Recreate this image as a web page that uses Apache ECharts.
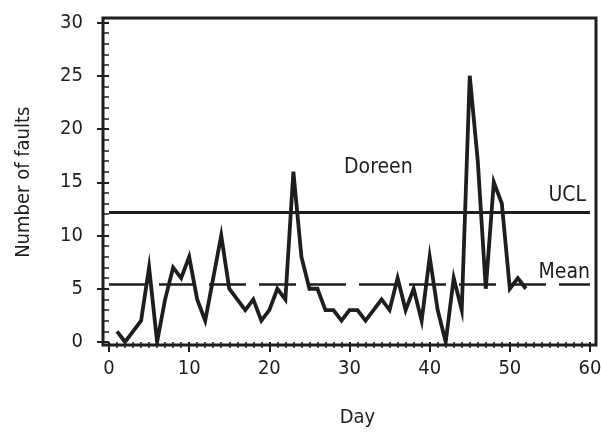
<!DOCTYPE html>
<html lang="en">
<head>
    <meta charset="UTF-8">
    <title>Faults per day</title>
    <script src="https://cdn.jsdelivr.net/npm/echarts@6/dist/echarts.min.js"></script>
    <style>
        html, body { margin: 0; padding: 0; background: #fff; }
        #container { width: 601px; height: 432px; }
    </style>
</head>
<body>
<div id="container"></div>
<script type="text/javascript">
    // faults counted each day
    var days = [];
    for (var d = 1; d <= 52; d++) days.push(d);
    var faults = [1, 0, 1, 2, 7, 0, 4, 7, 6, 8,
                  4, 2, 6, 10, 5, 4, 3, 4, 2, 3,
                  5, 4, 16, 8, 5, 5, 3, 3, 2, 3,
                  3, 2, 3, 4, 3, 6, 3, 5, 2, 8,
                  3, 0, 6, 3, 25, 17, 5, 15, 13, 5,
                  6, 5];
    var UCL = 12.2;
    var MEAN = 5.45;
    var xTicks = [0, 10, 20, 30, 40, 50, 60];
    var yTicks = [0, 5, 10, 15, 20, 25, 30];
    var noteAt = [33.6, 16.4];   // where "Doreen" sits

    var font = '"Liberation Sans Narrow", "DejaVu Sans Condensed", sans-serif';
    var ink = '#1e1e1e';

    var points = [];
    for (var i = 0; i < days.length; i++) points.push([days[i], faults[i]]);

    var myChart = echarts.init(document.getElementById('container'));

    var option = {
        animation: false,
        grid: [
            { // data area
                left: 109, right: 11, top: 22.5, bottom: 90,
                outerBoundsMode: 'none', containLabel: false
            },
            { // the box round the plot
                left: 103, right: 5, top: 18, bottom: 87,
                outerBoundsMode: 'none', containLabel: false,
                show: true, borderColor: ink, borderWidth: 3,
                backgroundColor: 'transparent'
            }
        ],
        xAxis: [
            {
                type: 'value', gridIndex: 0,
                min: xTicks[0], max: xTicks[xTicks.length - 1], interval: 10,
                offset: 3,
                name: 'Day', nameLocation: 'middle', nameGap: 63,
                nameTextStyle: { fontFamily: font, fontSize: 20, color: ink, padding: [0, 0, 0, 16] },
                axisLine: { show: false },
                axisTick: { show: true, length: 10, lineStyle: { color: ink, width: 2 } },
                minorTick: { show: true, splitNumber: 10, length: 6, lineStyle: { color: ink, width: 1.5 } },
                axisLabel: { fontFamily: font, fontSize: 20, color: ink, margin: 14 },
                splitLine: { show: false }
            },
            { type: 'value', gridIndex: 1, show: false }
        ],
        yAxis: [
            {
                type: 'value', gridIndex: 0,
                min: yTicks[0], max: yTicks[yTicks.length - 1], interval: 5,
                offset: 6,
                name: 'Number of faults', nameLocation: 'middle', nameGap: 69,
                nameTextStyle: { fontFamily: font, fontSize: 20, color: ink },
                axisLine: { show: false },
                axisTick: { show: true, length: 12, lineStyle: { color: ink, width: 2 } },
                minorTick: { show: true, splitNumber: 5, length: 7, lineStyle: { color: ink, width: 1.5 } },
                axisLabel: { fontFamily: font, fontSize: 20, color: ink, margin: 20 },
                splitLine: { show: false }
            },
            { type: 'value', gridIndex: 1, show: false }
        ],
        series: [
            {
                type: 'line',
                xAxisIndex: 0, yAxisIndex: 0,
                data: points,
                symbol: 'none',
                lineStyle: { color: ink, width: 3.8, join: 'miter' },
                markLine: {
                    silent: true,
                    symbol: 'none',
                    data: [
                        {
                            yAxis: UCL, name: 'UCL',
                            lineStyle: { color: ink, width: 3, type: 'solid' },
                            label: { distance: [4, 6] }
                        },
                        {
                            yAxis: MEAN, name: 'Mean',
                            lineStyle: { color: ink, width: 2.5, type: [37, 13] },
                            label: { distance: [0, 1] }
                        }
                    ],
                    label: {
                        position: 'insideEndTop',
                        formatter: '{b}',
                        fontFamily: font, fontSize: 21, color: ink
                    }
                },
                markPoint: {
                    silent: true,
                    symbol: 'circle', symbolSize: 1,
                    itemStyle: { color: 'transparent' },
                    data: [{ coord: noteAt, name: 'Doreen' }],
                    label: {
                        show: true, position: 'inside', formatter: '{b}',
                        fontFamily: font, fontSize: 21, color: ink
                    }
                }
            }
        ]
    };

    myChart.setOption(option, true);
</script>
</body>
</html>
